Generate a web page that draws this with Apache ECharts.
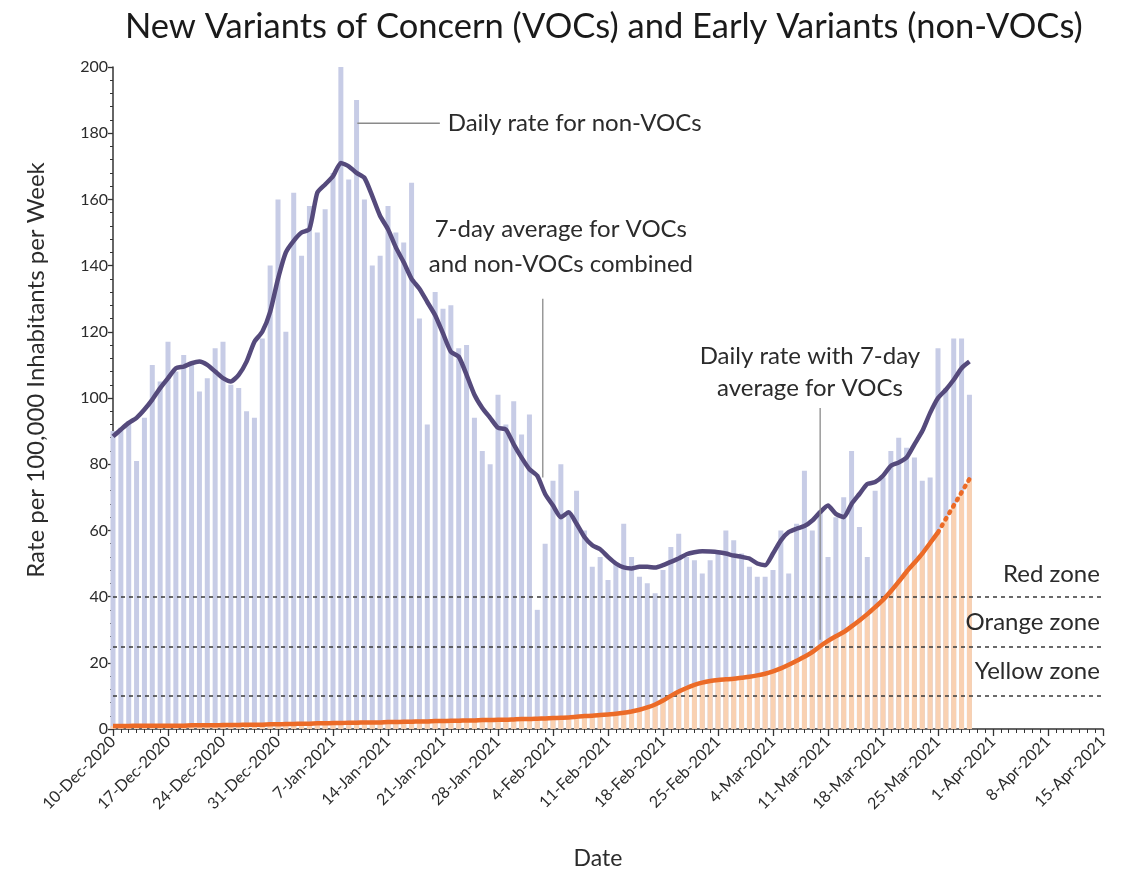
<!DOCTYPE html>
<html>
<head>
<meta charset="utf-8">
<script src="https://cdn.jsdelivr.net/npm/echarts@6/dist/echarts.min.js"></script>
<style>
html,body{margin:0;padding:0;background:#fff;}
#main{width:1127px;height:875px;}
</style>
</head>
<body>
<div id="main"></div>
<script>
// Weekly tick labels (x axis, one every 7 days starting 10-Dec-2020)
const tickLabels = ['10-Dec-2020','17-Dec-2020','24-Dec-2020','31-Dec-2020','7-Jan-2021','14-Jan-2021',
  '21-Jan-2021','28-Jan-2021','4-Feb-2021','11-Feb-2021','18-Feb-2021','25-Feb-2021','4-Mar-2021',
  '11-Mar-2021','18-Mar-2021','25-Mar-2021','1-Apr-2021','8-Apr-2021','15-Apr-2021'];

// Daily rate (all variants, bar height) from 10-Dec-2020 (day 0) to 29-Mar-2021 (day 109)
const dailyTotal = [90,91,93,81,94,110,105,117,108,113,
  110,102,106,115,117,104,103,96,94,118,
  140,160,120,162,143,158,150,157,168,200,
  166,190,160,140,143,158,150,147,165,124,
  92,132,127,128,115,116,94,84,80,101,
  92,99,89,95,36,56,75,80,66,72,
  60,49,52,45,50,62,52,46,44,41,
  48,55,59,52,51,47,51,54,60,57,
  53,49,46,46,48,60,47,62,78,60,
  66,52,64,70,84,61,52,72,76,84,
  88,85,82,75,76,115,103,118,118,101];

// 7-day average, VOCs and non-VOCs combined
const avgCombined = [88.4,90.5,92.5,94,96.5,99.5,103,106,109,109.5,
  110.5,111,110,108,106,105,107,111,117,120,
  126,136,144,147.5,150,151,162,164.5,167,171,
  170,168,166.5,161,155,151,145.5,141,136,133,
  129,125,119.5,114,112.5,107,101,97,94,91,
  90.5,86,82,78.5,76.5,71,67.5,64,65.5,62,
  58,55.5,54.3,52,50,48.8,48.5,49,49,48.8,
  49.5,50.5,51.5,52.8,53.4,53.7,53.6,53.4,53,52.4,
  52,51.5,50,49.5,53,57,59.5,60.5,61.3,63,
  65.5,67.5,65,64,68,71,74,74.6,76.5,79.5,
  80.5,82,86,90,95.5,100,102.5,105.5,109,111];

// 7-day average for VOCs (also the height of the orange VOC bars)
const vocAvg = [0.9,0.9,0.9,1.0,1.0,1.0,1.0,1.0,1.0,1.0,
  1.1,1.1,1.1,1.1,1.2,1.2,1.2,1.3,1.3,1.3,
  1.4,1.4,1.5,1.5,1.6,1.6,1.7,1.7,1.8,1.8,
  1.9,1.9,2.0,2.0,2.0,2.1,2.1,2.2,2.2,2.3,
  2.3,2.4,2.4,2.5,2.5,2.6,2.6,2.7,2.7,2.8,
  2.8,2.9,3.0,3.0,3.1,3.2,3.3,3.4,3.5,3.7,
  3.9,4.0,4.2,4.4,4.6,4.9,5.3,5.8,6.5,7.4,
  8.6,10.0,11.3,12.4,13.3,14.0,14.5,14.8,15.0,15.2,
  15.5,15.8,16.2,16.7,17.4,18.3,19.4,20.6,21.8,23.2,
  25.0,26.6,28.0,29.3,31.0,32.8,34.7,36.8,39.0,41.6,
  44.5,47.5,50.2,53.0,56.2,59.4,63.5,67.5,71.5,75.5];
const vocSolidLastDay = 105; // after this day the VOC average is drawn dotted

// Risk zone thresholds
const zoneNames = ['Red zone','Orange zone','Yellow zone'];
const zoneLimits = [40, 25, 10];

const FONT = 'Lato';
const TXT = '#2b2b2b';

const totalPairs = dailyTotal.map((v,i)=>[i,v]);
const vocPairs = vocAvg.map((v,i)=>[i,v]);
const avgPairs = avgCombined.map((v,i)=>[i,v]);
const vocSolid = vocAvg.map((v,i)=>[i, i<=vocSolidLastDay ? v : null]);
const vocDotted = vocAvg.map((v,i)=>[i, i>=vocSolidLastDay ? v : null]);

const chart = echarts.init(document.getElementById('main'), null, {renderer:'canvas'});

const option = {
  animation:false,
  backgroundColor:'#ffffff',
  textStyle:{fontFamily:FONT},
  title:{
    text:'New Variants of Concern (VOCs) and Early Variants (non-VOCs)',
    left:120, top:4,
    textStyle:{fontFamily:FONT, fontSize:34.5, fontWeight:'normal', color:'#1a1a1a'}
  },
  grid:{left:113, right:24, top:67, bottom:145, containLabel:false},
  xAxis:{
    type:'value', min:0, max:126, interval:7,
    name:'Date', nameLocation:'middle', nameGap:118,
    nameTextStyle:{fontFamily:FONT, fontSize:23, color:TXT, padding:[0,20,0,0]},
    axisLine:{show:true, onZero:false, lineStyle:{color:'#333', width:1.5}},
    axisTick:{show:true, length:7, lineStyle:{color:'#333', width:1.3}},
    minorTick:{show:true, splitNumber:7, length:4, lineStyle:{color:'#333', width:1}},
    splitLine:{show:false},
    axisLabel:{
      rotate:45, fontFamily:FONT, fontSize:16, color:TXT, margin:10,
      formatter:(v)=> tickLabels[Math.round(v/7)] || ''
    }
  },
  yAxis:{
    type:'value', min:0, max:200, interval:20,
    axisLine:{show:true, lineStyle:{color:'#333', width:1.5}},
    axisTick:{show:true, length:5, lineStyle:{color:'#333', width:1.3}},
    minorTick:{show:true, splitNumber:5, length:3, lineStyle:{color:'#333', width:1}},
    splitLine:{show:false},
    axisLabel:{fontFamily:FONT, fontSize:16, color:TXT, margin:5}
  },
  series:[
    {
      name:'Daily rate for non-VOCs', type:'bar', data:totalPairs,
      barWidth:5, barGap:'-100%',
      itemStyle:{color:'#c7cce6'}, z:1,
      markLine:{
        silent:true, symbol:['none','none'],
        lineStyle:{color:'#3a3a3a', type:[4,4], width:1.5},
        label:{show:false},
        data: zoneLimits.map(v=>({yAxis:v}))
      }
    },
    {
      name:'Daily rate VOCs', type:'bar', data:vocPairs,
      barWidth:5, barGap:'-100%',
      itemStyle:{color:'#f9d1b2'}, z:2
    },
    {
      name:'7-day average combined', type:'line', data:avgPairs,
      showSymbol:false, smooth:0.2,
      lineStyle:{color:'#554a7c', width:4.5}, z:5
    },
    {
      name:'7-day average VOCs', type:'line', data:vocSolid,
      showSymbol:false, smooth:0.25, connectNulls:false,
      lineStyle:{color:'#ec6b27', width:4.5}, z:6
    },
    {
      name:'7-day average VOCs (dotted)', type:'line', data:vocDotted,
      showSymbol:false, connectNulls:false,
      lineStyle:{color:'#ec6b27', width:4.5, type:[1.5,6], cap:'round'}, z:6
    }
  ]
};
chart.setOption(option);

function px(d,v){ return chart.convertToPixel({gridIndex:0},[d,v]); }
function txt(d,v,text,align){
  const p = px(d,v);
  return {type:'text', x:p[0], y:p[1], z:20,
    style:{text:text, fontFamily:FONT, fontSize:24, fill:TXT, align:align||'center', verticalAlign:'middle'}};
}
function seg(d1,v1,d2,v2){
  const a = px(d1,v1), b = px(d2,v2);
  return {type:'line', z:20, shape:{x1:a[0],y1:a[1],x2:b[0],y2:b[1]},
    style:{stroke:'#8a8a8a', lineWidth:1.3}};
}
const zoneTextVals = [46.8, 32.3, 17.5];
const graphics = [
  seg(31.1,183,41.6,183),
  txt(42.6,183,'Daily rate for non-VOCs','left'),
  txt(57,151,'7-day average for VOCs'),
  txt(57,140.5,'and non-VOCs combined'),
  seg(54.7,130,54.7,76),
  txt(88.7,112.5,'Daily rate with 7-day'),
  txt(88.7,103,'average for VOCs'),
  seg(90,97,90,27),
  // y axis title
  {type:'text', x:36, y:370, rotation:Math.PI/2, z:20,
   style:{text:'Rate per 100,000 Inhabitants per Week', fontFamily:FONT, fontSize:24, fill:TXT,
          align:'center', verticalAlign:'middle'}}
];
zoneNames.forEach((n,i)=>graphics.push(txt(125.6, zoneTextVals[i], n, 'right')));
chart.setOption({graphic:graphics});
</script>
</body>
</html>
